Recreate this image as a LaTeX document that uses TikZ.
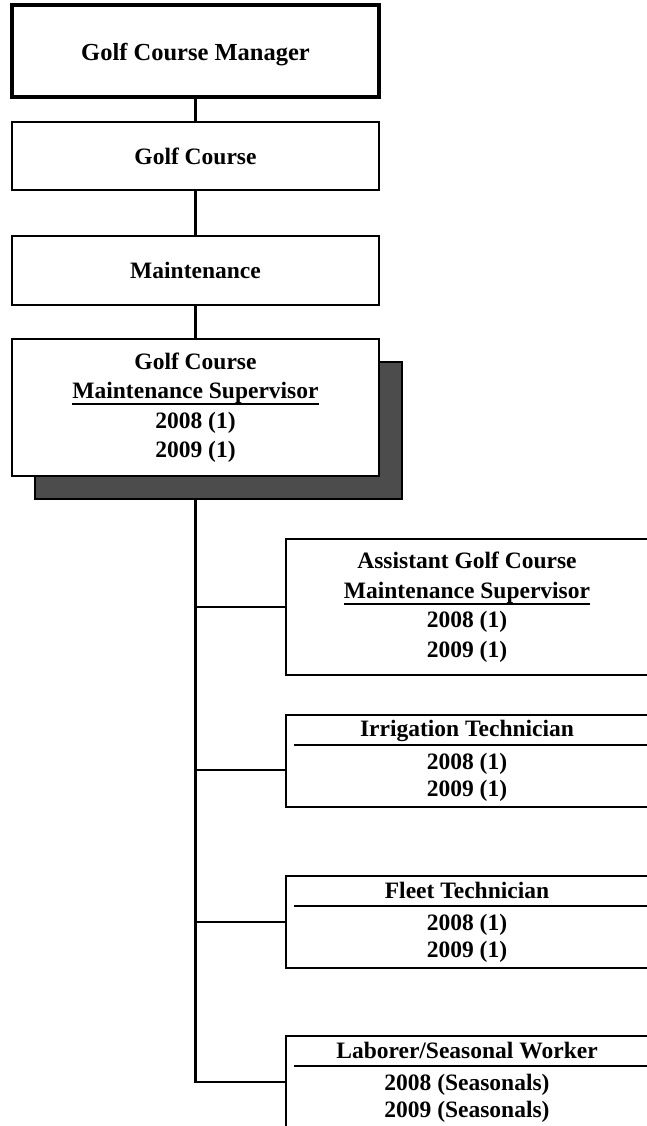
\documentclass[tikz,border=0pt]{standalone}
\usepackage{fontspec}
\setmainfont{Liberation Serif}
\usetikzlibrary{shadows}

\newcommand{\ulbar}[1]{\setbox0=\hbox{#1}\rlap{\rule[-6.5pt]{\wd0}{1.8pt}}\box0}

\tikzset{
  unitbox/.style={draw, fill=white, line width=2.2pt, minimum width=367pt, align=center,
    inner sep=0pt, font={\bfseries\fontsize{23.5}{29.5}\selectfont}},
  topbox/.style={unitbox, line width=3.4pt},
  childbox/.style={unitbox, minimum width=362pt},
  headbox/.style={childbox, font={\bfseries\fontsize{23.5}{27}\selectfont}},
  link/.style={line width=2.2pt},
}

\begin{document}
\begin{tikzpicture}[x=1pt,y=-1pt]
  \useasboundingbox (0,0) rectangle (646,1126);

  % upper chain
  \node[topbox, minimum height=92pt, text height=25pt, text depth=5pt,
    font={\bfseries\fontsize{24.5}{29.5}\selectfont}] (mgr) at (195.5,51) {Golf Course Manager};
  \node[unitbox, minimum height=68pt] (gc) at (195.5,156) {Golf Course};
  \node[unitbox, minimum height=69pt] (mnt) at (195.5,270.5) {Maintenance};
  \node[unitbox, minimum height=137pt,
    drop shadow={shadow xshift=23pt, shadow yshift=-23pt, opacity=1,
      fill=black!70, draw=black, line width=1.5pt}] (sup) at (195.5,407.5)
    {Golf Course\\\ulbar{Maintenance Supervisor}\\2008 (1)\\2009 (1)};

  \draw[link] (mgr) -- (gc);
  \draw[link] (gc) -- (mnt);
  \draw[link] (mnt) -- (sup);

  % staff under the supervisor
  \node[childbox, minimum height=136pt] (asst) at (467,607)
    {Assistant Golf Course\\\ulbar{Maintenance Supervisor}\\2008 (1)\\2009 (1)};
  \node[headbox, minimum height=92pt] (irr) at (467,761)
    {Irrigation Technician\\[6pt]2008 (1)\\2009 (1)};
  \node[headbox, minimum height=92pt] (flt) at (467,922)
    {Fleet Technician\\[5pt]2008 (1)\\2009 (1)};
  \node[headbox, minimum height=92pt] (lab) at (467,1082)
    {Laborer/Seasonal Worker\\[5pt]2008 (Seasonals)\\2009 (Seasonals)};

  % rules under the titles
  \foreach \b in {irr, flt, lab} {
    \draw[link] ([xshift=9pt,yshift=-31pt]\b.north west) -- ([yshift=-31pt]\b.north east);
  }

  % trunk and branches
  \coordinate (trunktop) at ([yshift=-23pt]sup.south);
  \coordinate (irrin) at ([yshift=-9pt]irr.west);
  \draw[link] (trunktop) -- (trunktop |- lab.west) -- (lab.west);
  \foreach \b in {asst.west, irrin, flt.west} {
    \draw[link] (trunktop |- \b) -- (\b);
  }
\end{tikzpicture}
\end{document}
